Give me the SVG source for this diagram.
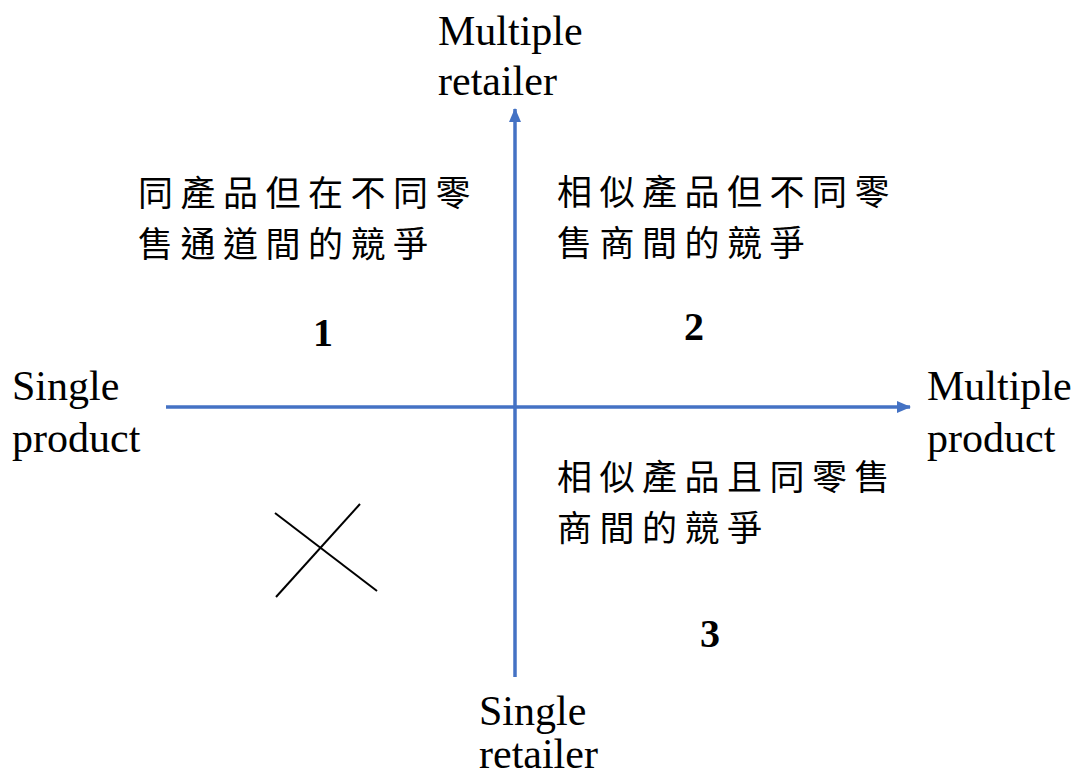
<svg xmlns="http://www.w3.org/2000/svg" width="1081" height="778" viewBox="0 0 1081 778">
<style>
.en{font-family:"Liberation Serif","Times New Roman",serif;font-size:42px;fill:#000}
.num{font-family:"Liberation Serif","Times New Roman",serif;font-size:40px;font-weight:bold;fill:#000}
.zh{font-family:"Liberation Serif","Noto Sans CJK TC",serif;font-size:35px;letter-spacing:7.5px;fill:#000}
.axis{stroke:#4472C4;stroke-width:3.5;fill:none}
.x{stroke:#000;stroke-width:2}
</style>
<defs>
<marker id="arr" markerWidth="14" markerHeight="12" refX="13" refY="6" orient="auto" markerUnits="userSpaceOnUse">
<path d="M0,0 L14,6 L0,12 Z" fill="#4472C4"/>
</marker>
</defs>
<rect width="1081" height="778" fill="#fff"/>
<g id="connectors">
<line class="axis" x1="166" y1="407" x2="910" y2="407" marker-end="url(#arr)"/>
<line class="axis" x1="515" y1="677" x2="515" y2="109" marker-end="url(#arr)"/>
</g>
<g id="axis-top"><text class="en" x="438" y="45">Multiple</text><text class="en" x="438" y="95">retailer</text></g>
<g id="axis-bottom"><text class="en" x="479" y="725">Single</text><text class="en" x="479" y="768">retailer</text></g>
<g id="axis-left"><text class="en" x="12" y="400">Single</text><text class="en" x="12" y="452">product</text></g>
<g id="axis-right"><text class="en" x="927" y="400">Multiple</text><text class="en" x="927" y="452">product</text></g>
<g id="q1"><text class="zh" x="138" y="206">同產品但在不同零</text><text class="zh" x="138" y="257">售通道間的競爭</text><text class="num" x="323" y="346" text-anchor="middle">1</text></g>
<g id="q2"><text class="zh" x="557" y="205">相似產品但不同零</text><text class="zh" x="557" y="256">售商間的競爭</text><text class="num" x="694" y="340" text-anchor="middle">2</text></g>
<g id="q3"><text class="zh" x="557" y="490">相似產品且同零售</text><text class="zh" x="557" y="541">商間的競爭</text><text class="num" x="710" y="647" text-anchor="middle">3</text></g>
<g id="q4"><line class="x" x1="275" y1="513" x2="377" y2="591"/><line class="x" x1="360" y1="504" x2="276" y2="597"/></g>
</svg>
